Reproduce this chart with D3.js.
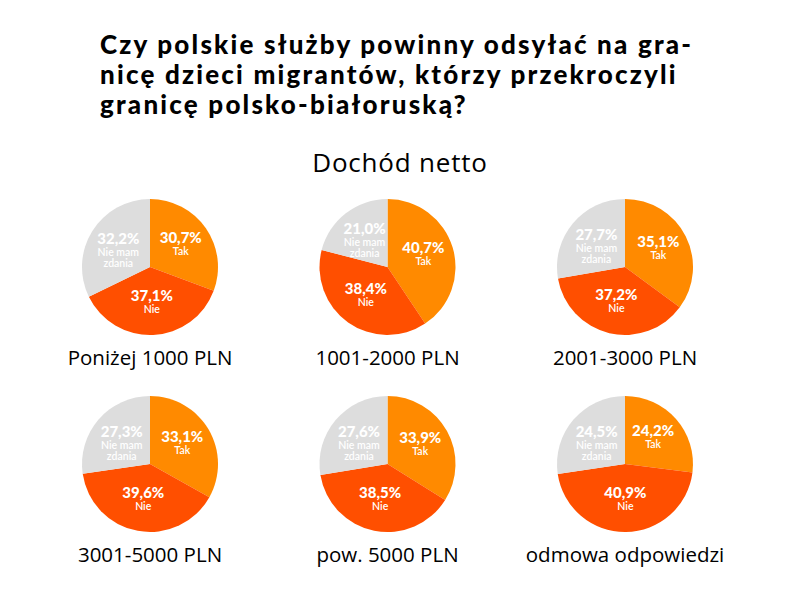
<!DOCTYPE html>
<html>
<head>
<meta charset="utf-8">
<script src="https://cdn.jsdelivr.net/npm/d3@7"></script>
<style>
body { margin: 0; background: #fff; font-family: "Open Sans", sans-serif; }
</style>
</head>
<body>
<script>
var groups = ["Poniżej 1000 PLN", "1001-2000 PLN", "2001-3000 PLN", "3001-5000 PLN", "pow. 5000 PLN", "odmowa odpowiedzi"];
var answers = ["Tak", "Nie", "Nie mam zdania"];
var tak = [30.7, 40.7, 35.1, 33.1, 33.9, 24.2];
var nie = [37.1, 38.4, 37.2, 39.6, 38.5, 40.9];
var brak = [32.2, 21.0, 27.7, 27.3, 27.6, 24.5];

var width = 800, height = 593, radius = 68;
var svg = d3.select("body").append("svg").attr("width", width).attr("height", height);

var title = ["Czy polskie służby powinny odsyłać na gra-", "nicę dzieci migrantów, którzy przekroczyli", "granicę polsko-białoruską?"];
svg.selectAll("text.title").data(title).enter().append("text")
  .attr("x", 100).attr("y", function(d, i) { return 54 + i * 30; })
  .style("font-family", "Lato").style("font-weight", 900).style("font-size", "26px")
  .style("letter-spacing", "2.2px")
  .text(function(d) { return d; });

svg.append("text").attr("x", 400).attr("y", 172).attr("text-anchor", "middle")
  .style("font-size", "26px").style("letter-spacing", "0.8px").text("Dochód netto");

var color = d3.scaleOrdinal().domain(answers).range(["#ff8a00", "#ff4f00", "#dddddd"]);
var xs = d3.scalePoint().domain([0, 1, 2]).range([150, 625]);
var ys = d3.scalePoint().domain([0, 1]).range([267, 464]);
var pie = d3.pie().sort(null).value(function(d) { return d.v; });
var arc = d3.arc().innerRadius(0).outerRadius(radius);
var labelArc = d3.arc().innerRadius(radius * 0.55).outerRadius(radius * 0.55);

groups.forEach(function(g, i) {
  var data = [{k: answers[0], v: tak[i]}, {k: answers[1], v: nie[i]}, {k: answers[2], v: brak[i]}];
  var cx = xs(i % 3), cy = ys(Math.floor(i / 3));
  var gp = svg.append("g").attr("transform", "translate(" + cx + "," + cy + ")");
  var arcs = pie(data);
  gp.selectAll("path").data(arcs).enter().append("path")
    .attr("d", arc).attr("fill", function(d) { return color(d.data.k); });
  var lab = gp.selectAll("g.lab").data(arcs).enter().append("g")
    .attr("transform", function(d) { return "translate(" + labelArc.centroid(d) + ")"; })
    .attr("text-anchor", "middle").attr("fill", "#fff");
  lab.append("text").attr("y", -3)
    .style("font-family", "Lato").style("font-weight", 900).style("font-size", "15px")
    .text(function(d) { return d.data.v.toFixed(1).replace(".", ",") + "%"; });
  lab.each(function(d) {
    var lines = d.data.k === "Nie mam zdania" ? ["Nie mam", "zdania"] : [d.data.k];
    d3.select(this).selectAll("text.sub").data(lines).enter().append("text")
      .attr("y", function(l, j) { return 9 + j * 11; })
      .style("font-family", "Lato").style("font-weight", 600).style("font-size", "10.5px")
      .text(function(l) { return l; });
  });
  svg.append("text").attr("x", cx).attr("y", cy + 98).attr("text-anchor", "middle")
    .style("font-size", "20.5px").text(g);
});
</script>
</body>
</html>
